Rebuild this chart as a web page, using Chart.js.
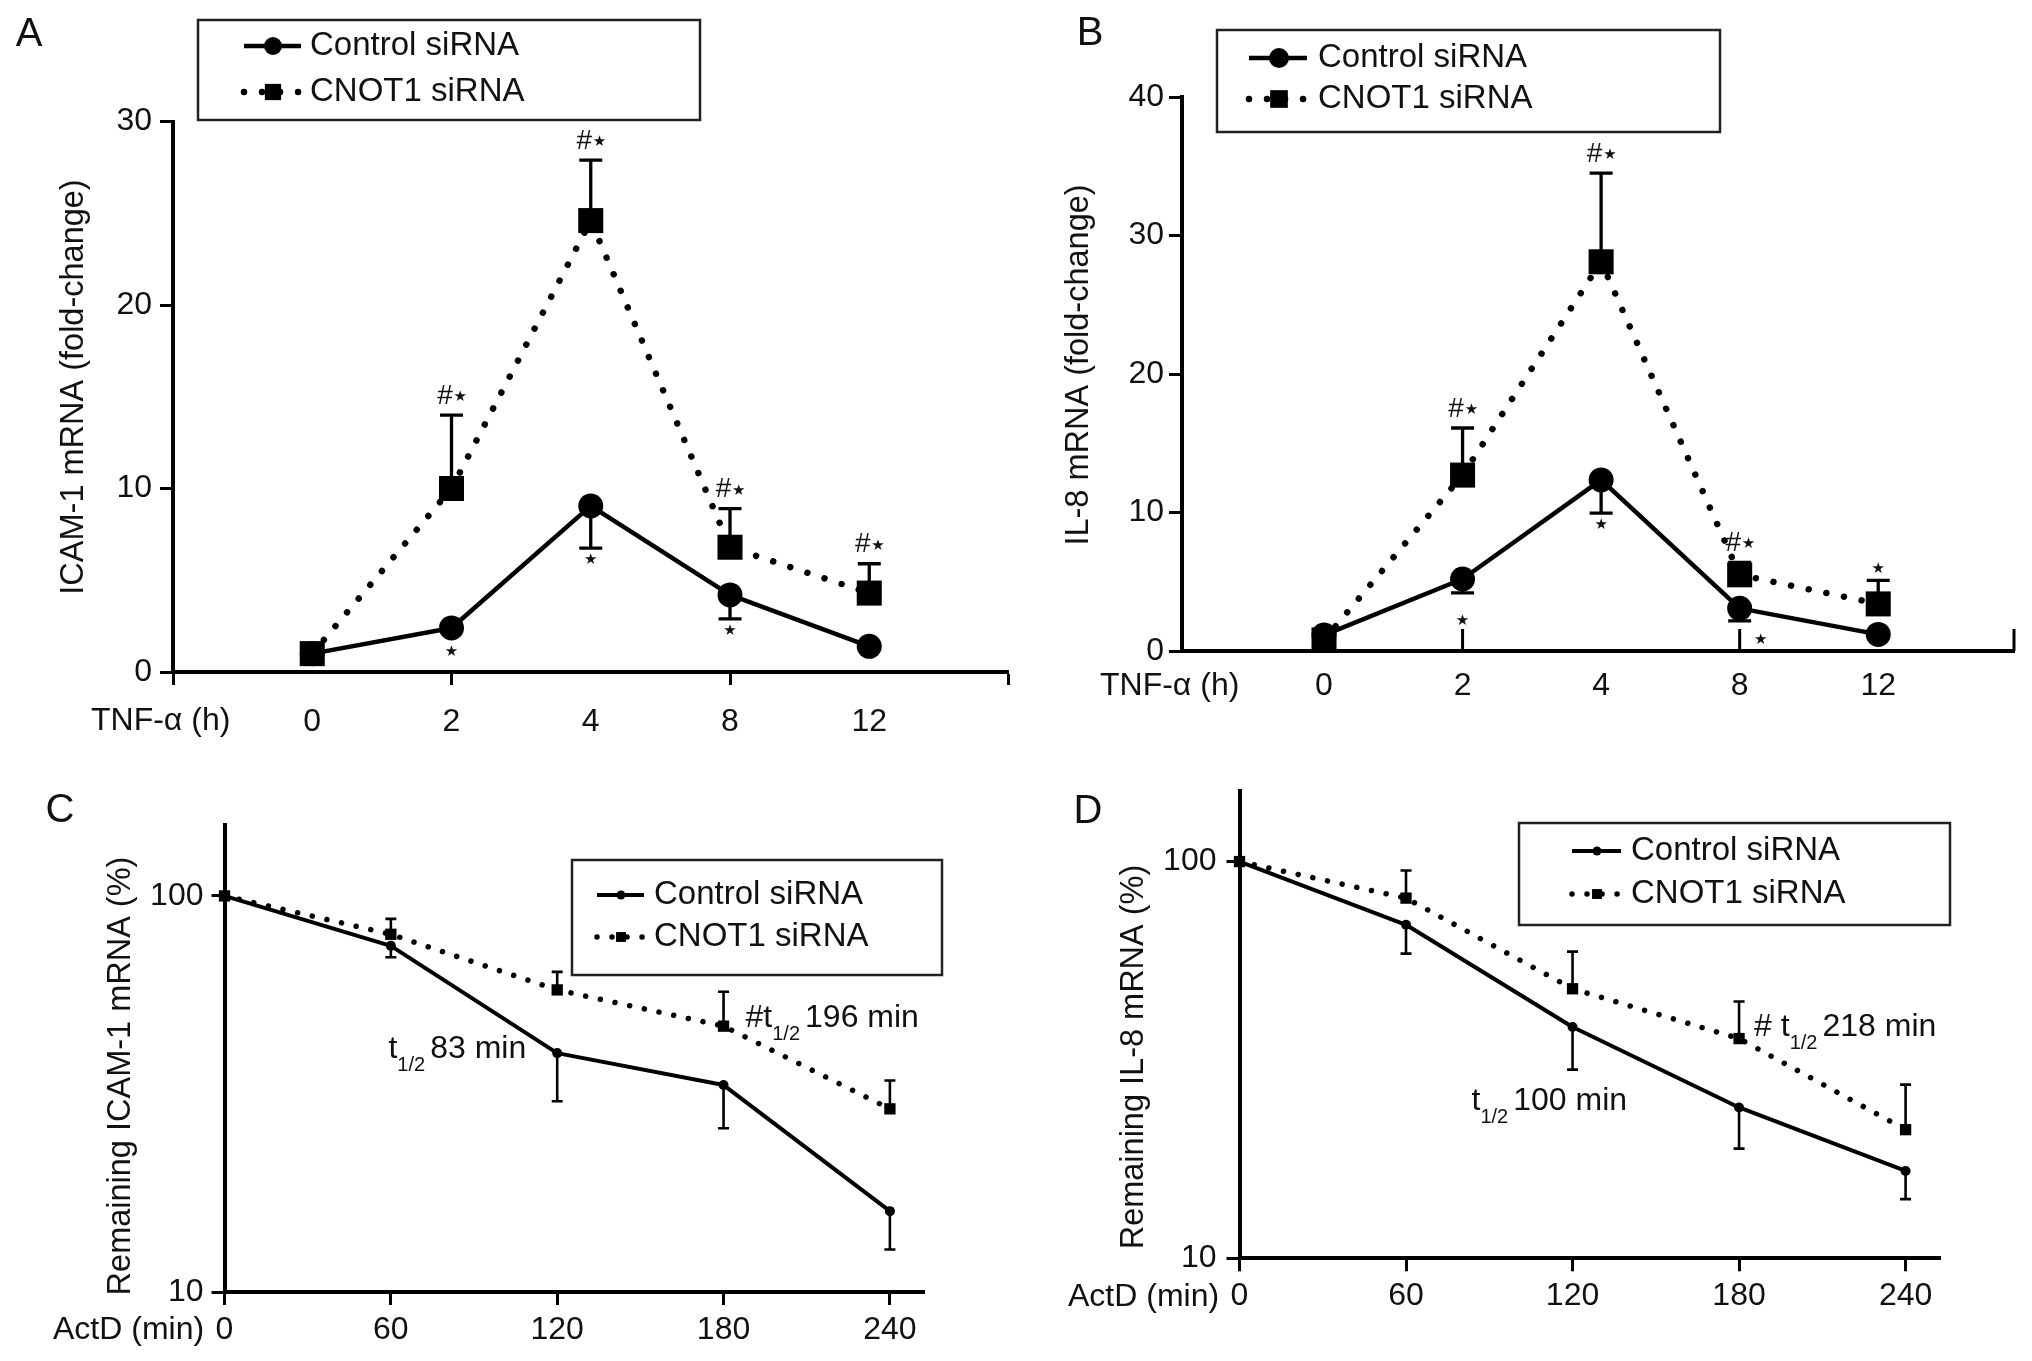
<!DOCTYPE html>
<html>
<head>
<meta charset="utf-8">
<script src="https://cdn.jsdelivr.net/npm/chart.js@4/dist/chart.umd.min.js"></script>
<style>
html,body{margin:0;padding:0;background:#fff;}
#wrap{position:relative;width:2032px;height:1361px;overflow:hidden;background:#fff;}
#wrap canvas{position:absolute;left:0;top:0;}
</style>
</head>
<body>
<div id="wrap">
<canvas id="cA" width="2032" height="1361"></canvas>
<canvas id="cB" width="2032" height="1361"></canvas>
<canvas id="cC" width="2032" height="1361"></canvas>
<canvas id="cD" width="2032" height="1361"></canvas>
</div>
<script>
// ---------------- DATA ----------------
const seriesNames = ['Control siRNA', 'CNOT1 siRNA'];
const timeLabels = ['0', '2', '4', '8', '12'];          // TNF-α (h)
const actdMinutes = [0, 60, 120, 180, 240];             // ActD (min)

// A: ICAM-1 mRNA (fold-change)
const icamControl    = [1.0, 2.4, 9.05, 4.2, 1.4];
const icamControlSem = [0, 0, 2.3, 1.3, 0];
const icamCnot1      = [1.0, 10.0, 24.6, 6.8, 4.3];
const icamCnot1Sem   = [0, 4.0, 3.3, 2.1, 1.6];
const icamControlSig = ['', '*', '*', '*', ''];
const icamCnot1Sig   = ['', '#*', '#*', '#*', '#*'];

// B: IL-8 mRNA (fold-change)
const il8Control    = [1.15, 5.2, 12.35, 3.08, 1.2];
const il8ControlSem = [0, 1.0, 2.4, 0.9, 0];
const il8Cnot1      = [0.8, 12.7, 28.1, 5.5, 3.4];
const il8Cnot1Sem   = [0, 3.4, 6.4, 0.9, 1.7];
const il8ControlSig = ['', '*', '*', '*', ''];
const il8Cnot1Sig   = ['', '#*', '#*', '#*', '*'];

// C: Remaining ICAM-1 mRNA (%)
const icamDecayControl    = [100, 74.8, 40.1, 33.3, 16.0];
const icamDecayControlSem = [0, 4.8, 9.8, 7.4, 3.2];
const icamDecayCnot1      = [100, 80.0, 57.9, 46.9, 29.0];
const icamDecayCnot1Sem   = [0, 7.5, 6.4, 10.4, 5.2];
const icamHalfLife        = ['83 min', '196 min'];

// D: Remaining IL-8 mRNA (%)
const il8DecayControl    = [100, 69.3, 38.3, 24.0, 16.6];
const il8DecayControlSem = [0, 10.7, 8.4, 5.1, 2.5];
const il8DecayCnot1      = [100, 80.9, 47.8, 35.8, 21.1];
const il8DecayCnot1Sem   = [0, 14.1, 11.5, 8.6, 6.3];
const il8HalfLife        = ['100 min', '218 min'];

const foldTicks = [0, 10, 20, 30];
const foldTicksB = [0, 10, 20, 30, 40];
const logTicks = [10, 100];

// ---------------- STYLE ----------------
const FONT = "'Liberation Sans', Arial, Helvetica, sans-serif";
const INK = '#111';
const W = 2032, H = 1361;

function markerPath(ctx, style, r, x, y) {
  ctx.beginPath();
  if (style === 'rect') {
    const s = r * Math.SQRT1_2;
    ctx.rect(x - s, y - s, 2 * s, 2 * s);
  } else {
    ctx.arc(x, y, r, 0, Math.PI * 2);
  }
  ctx.fill();
}

function drawStar(ctx, x, y, size) {
  ctx.save();
  ctx.font = size + "px 'DejaVu Sans', sans-serif";
  ctx.textAlign = 'center';
  ctx.textBaseline = 'middle';
  ctx.fillStyle = INK;
  ctx.fillText('\u2605', x, y);
  ctx.restore();
}

function drawSig(ctx, txt, cx, cy) {
  const hasHash = txt.indexOf('#') >= 0;
  ctx.save();
  ctx.font = '28px ' + FONT;
  ctx.fillStyle = INK;
  const hw = hasHash ? ctx.measureText('#').width : 0;
  const starW = 11, gap = hasHash ? 2 : 0;
  const total = hw + gap + starW;
  const x0 = cx - total / 2;
  if (hasHash) {
    ctx.textAlign = 'left';
    ctx.textBaseline = 'middle';
    ctx.fillText('#', x0, cy);
  }
  ctx.restore();
  drawStar(ctx, x0 + hw + gap + starW / 2, cy + (hasHash ? 1 : 0), 15);
}

function drawHalfLife(ctx, prefix, text, x, cy, align) {
  const big = '32px ' + FONT, small = '20px ' + FONT;
  const base = cy + 11.5;
  const parts = [];
  if (prefix) parts.push({ t: prefix, f: big, dy: 0, after: 0 });
  parts.push({ t: 't', f: big, dy: 0, after: 0 });
  parts.push({ t: '1/2', f: small, dy: 13, after: 5 });
  parts.push({ t: text, f: big, dy: 0, after: 0 });
  ctx.save();
  ctx.fillStyle = INK;
  ctx.textBaseline = 'alphabetic';
  ctx.textAlign = 'left';
  let total = 0;
  parts.forEach(p => { ctx.font = p.f; p.w = ctx.measureText(p.t).width; total += p.w + p.after; });
  let cx = align === 'right' ? x - total : x;
  parts.forEach(p => { ctx.font = p.f; ctx.fillText(p.t, cx, base + p.dy); cx += p.w + p.after; });
  ctx.restore();
}

function buildPanel(id, P) {
  const YW = 100, XH = 100;
  const g = P.geo;
  const datasets = P.series.map(s => ({
    label: s.name,
    data: s.values.map((v, i) => ({ x: P.xValues[i], y: v })),
    borderColor: '#000',
    backgroundColor: '#000',
    pointBackgroundColor: '#000',
    pointBorderWidth: 0,
    borderWidth: s.lineWidth,
    borderDash: s.dash,
    borderCapStyle: s.dash.length ? 'round' : 'butt',
    borderJoinStyle: 'round',
    pointStyle: s.pointStyle,
    pointRadius: s.pointRadius,
    pointHoverRadius: s.pointRadius,
    tension: 0,
    fill: false,
    clip: false,
    order: s.order
  }));

  const panelPlugin = {
    id: 'panelDeco' + id,
    beforeDatasetsDraw(chart) {
      const ctx = chart.ctx, xs = chart.scales.x, ys = chart.scales.y;
      ctx.save();
      ctx.strokeStyle = '#000';
      ctx.lineWidth = P.errWidth;
      P.series.forEach(s => {
        s.values.forEach((v, i) => {
          const e = s.errors[i];
          if (!e) return;
          const px = xs.getPixelForValue(P.xValues[i]);
          const y1 = ys.getPixelForValue(v);
          const y2 = ys.getPixelForValue(s.errDir === 'up' ? v + e : v - e);
          ctx.beginPath();
          ctx.moveTo(px, y1); ctx.lineTo(px, y2);
          ctx.moveTo(px - P.capHalf, y2); ctx.lineTo(px + P.capHalf, y2);
          ctx.stroke();
        });
      });
      ctx.restore();
    },
    afterDraw(chart) {
      const ctx = chart.ctx, xs = chart.scales.x, ys = chart.scales.y;
      const area = chart.chartArea;
      ctx.save();
      if (P.inwardTicks) {
        ctx.strokeStyle = '#000';
        ctx.lineWidth = 3;
        P.inwardTicks.forEach(v => {
          const px = xs.getPixelForValue(v);
          ctx.beginPath();
          ctx.moveTo(px, area.bottom);
          ctx.lineTo(px, area.bottom - 22);
          ctx.stroke();
        });
      }
      ctx.fillStyle = INK;
      ctx.font = '40px ' + FONT;
      ctx.textAlign = 'center';
      ctx.textBaseline = 'middle';
      ctx.fillText(P.letter.text, P.letter.x, P.letter.y);
      ctx.save();
      ctx.translate(P.yTitle.x, P.yTitle.y);
      ctx.rotate(-Math.PI / 2);
      ctx.font = '32.5px ' + FONT;
      ctx.textAlign = 'center';
      ctx.textBaseline = 'middle';
      ctx.fillText(P.yTitle.text, 0, 0);
      ctx.restore();
      ctx.font = '32px ' + FONT;
      ctx.textAlign = 'left';
      ctx.textBaseline = 'middle';
      ctx.fillText(P.xSide.text, P.xSide.x, P.xSide.y);
      const L = P.legend;
      ctx.strokeStyle = '#222';
      ctx.lineWidth = 2.5;
      ctx.strokeRect(L.box[0], L.box[1], L.box[2] - L.box[0], L.box[3] - L.box[1]);
      P.series.forEach((s, i) => {
        const y = L.rows[i];
        ctx.save();
        ctx.strokeStyle = '#000';
        ctx.lineWidth = s.lineWidth;
        ctx.setLineDash(s.dash);
        ctx.lineCap = s.dash.length ? 'round' : 'butt';
        ctx.beginPath();
        ctx.moveTo(L.sample[0], y); ctx.lineTo(L.sample[1], y);
        ctx.stroke();
        ctx.restore();
        ctx.fillStyle = '#000';
        markerPath(ctx, s.pointStyle, s.legendRadius, L.markerX, y);
        ctx.fillStyle = INK;
        ctx.font = '33px ' + FONT;
        ctx.textAlign = 'left';
        ctx.textBaseline = 'middle';
        ctx.fillText(s.name, L.textX, y);
      });
      P.series.forEach(s => {
        if (!s.sig) return;
        s.sig.forEach((txt, i) => {
          if (!txt) return;
          const px = xs.getPixelForValue(P.xValues[i]);
          const py = ys.getPixelForValue(s.values[i]);
          const e = s.errors[i];
          const nudge = (s.sigNudge && s.sigNudge[i]) || [0, 0];
          if (s.errDir === 'up') {
            const top = e ? ys.getPixelForValue(s.values[i] + e) : py - s.pointRadius;
            const cy = txt.indexOf('#') >= 0 ? top - 19 : top - 11;
            drawSig(ctx, txt, px + nudge[0], cy + nudge[1]);
          } else {
            const bot = Math.max(e ? ys.getPixelForValue(s.values[i] - e) : 0, py + s.pointRadius);
            drawSig(ctx, txt, px + nudge[0], bot + 12 + nudge[1]);
          }
        });
      });
      if (P.notes) {
        P.notes.forEach(n => {
          const s = P.series[n.series];
          const ax = xs.getPixelForValue(P.xValues[n.index]);
          const ay = ys.getPixelForValue(s.values[n.index]);
          drawHalfLife(ctx, n.prefix, n.text, ax + n.dx, ay + n.dy, n.align);
        });
      }
      ctx.restore();
    }
  };

  const xTickColor = (c) => {
    if (!P.xTickMarks) return 'rgba(0,0,0,0)';
    return (c.tick && P.xTickMarks.some(v => Math.abs(v - c.tick.value) < 1e-6)) ? '#000' : 'rgba(0,0,0,0)';
  };

  return new Chart(document.getElementById(id), {
    type: 'line',
    data: { datasets },
    plugins: [panelPlugin],
    options: {
      responsive: false,
      animation: false,
      devicePixelRatio: 1,
      events: [],
      layout: {
        padding: { left: g.left - YW, top: g.top, right: W - g.right, bottom: H - g.bottom - XH }
      },
      plugins: { legend: { display: false }, tooltip: { enabled: false }, title: { display: false } },
      scales: {
        x: {
          type: 'linear',
          min: P.x.min, max: P.x.max,
          afterFit: s => { s.height = XH; },
          afterBuildTicks: s => { s.ticks = P.x.ticks.map(v => ({ value: v })); },
          ticks: {
            autoSkip: false, maxRotation: 0, minRotation: 0,
            padding: P.x.padding,
            color: INK,
            font: { family: FONT, size: 32 },
            callback: P.x.label
          },
          grid: {
            drawOnChartArea: false,
            drawTicks: P.x.drawTicks,
            tickLength: 13,
            tickWidth: 3,
            tickColor: xTickColor,
            color: '#000'
          },
          border: { display: true, color: '#000', width: 4 }
        },
        y: {
          type: P.y.type,
          min: P.y.min, max: P.y.max,
          afterFit: s => { s.width = YW; },
          afterBuildTicks: s => { s.ticks = P.y.ticks.map(v => ({ value: v })); },
          ticks: {
            padding: P.y.padding,
            color: INK,
            font: { family: FONT, size: 32 },
            callback: v => String(v)
          },
          grid: {
            drawOnChartArea: false,
            drawTicks: true,
            tickLength: 13,
            tickWidth: 3,
            tickColor: '#000',
            color: '#000'
          },
          border: { display: true, color: '#000', width: 4 },
          title: { display: false }
        }
      }
    }
  });
}

const catIdx = timeLabels.map((_, i) => i);
const catLabel = v => (Number.isInteger(v) && v >= 0 && v < timeLabels.length) ? timeLabels[v] : '';

buildPanel('cA', {
  geo: { left: 173, right: 1008.5, top: 121.5, bottom: 672 },
  xValues: catIdx,
  x: { min: -1.0, max: 5.0, ticks: [-1.0, 0, 1, 2, 3, 4, 5.0], padding: 18, drawTicks: true, label: catLabel },
  xTickMarks: [-1.0, 1, 3, 5.0],
  y: { type: 'linear', min: 0, max: 30, ticks: foldTicks, padding: 8 },
  errWidth: 3.3, capHalf: 11.5,
  letter: { text: 'A', x: 29, y: 35 },
  yTitle: { text: 'ICAM-1 mRNA (fold-change)', x: 74, y: 387 },
  xSide: { text: 'TNF-\u03b1 (h)', x: 91, y: 721 },
  legend: { box: [198, 20, 700, 120], rows: [46, 92], sample: [244, 301], markerX: 273, textX: 310 },
  series: [
    { name: seriesNames[0], values: icamControl, errors: icamControlSem, errDir: 'down', sig: icamControlSig,
      lineWidth: 4.5, dash: [], pointStyle: 'circle', pointRadius: 12.5, legendRadius: 9, order: 2 },
    { name: seriesNames[1], values: icamCnot1, errors: icamCnot1Sem, errDir: 'up', sig: icamCnot1Sig,
      lineWidth: 6.5, dash: [0.01, 18], pointStyle: 'rect', pointRadius: 17.7, legendRadius: 11.5, order: 1 }
  ]
});

buildPanel('cB', {
  geo: { left: 1182, right: 2014, top: 97, bottom: 651 },
  xValues: catIdx,
  x: { min: -1.025, max: 4.98, ticks: [0, 1, 2, 3, 4], padding: 16, drawTicks: false, label: catLabel },
  xTickMarks: null,
  inwardTicks: [1, 3, 4.98],
  y: { type: 'linear', min: 0, max: 40, ticks: foldTicksB, padding: 5 },
  errWidth: 3.3, capHalf: 11.5,
  letter: { text: 'B', x: 1090, y: 34 },
  yTitle: { text: 'IL-8 mRNA (fold-change)', x: 1079, y: 365 },
  xSide: { text: 'TNF-\u03b1 (h)', x: 1100, y: 686 },
  legend: { box: [1217, 30, 1720, 132], rows: [58, 99], sample: [1249, 1307], markerX: 1279, textX: 1318 },
  series: [
    { name: seriesNames[0], values: il8Control, errors: il8ControlSem, errDir: 'down', sig: il8ControlSig,
      sigNudge: [null, [0, 16], null, [21, 7], null],
      lineWidth: 4.5, dash: [], pointStyle: 'circle', pointRadius: 12.5, legendRadius: 10, order: 2 },
    { name: seriesNames[1], values: il8Cnot1, errors: il8Cnot1Sem, errDir: 'up', sig: il8Cnot1Sig,
      lineWidth: 6.5, dash: [0.01, 18], pointStyle: 'rect', pointRadius: 17.7, legendRadius: 12.5, order: 1 }
  ]
});

buildPanel('cC', {
  geo: { left: 224.5, right: 924, top: 825, bottom: 1292 },
  xValues: actdMinutes,
  x: { min: 0, max: 252.3, ticks: actdMinutes, padding: 6, drawTicks: true, label: v => String(v) },
  xTickMarks: actdMinutes,
  y: { type: 'logarithmic', min: 10, max: 151, ticks: logTicks, padding: 8 },
  errWidth: 2.6, capHalf: 5.5,
  letter: { text: 'C', x: 60, y: 811 },
  yTitle: { text: 'Remaining ICAM-1 mRNA (%)', x: 121, y: 1076 },
  xSide: { text: 'ActD (min)', x: 53, y: 1330 },
  legend: { box: [572, 860, 942, 975], rows: [895, 937], sample: [597, 644], markerX: 621, textX: 654 },
  notes: [
    { series: 0, index: 2, dx: -31, dy: -7, align: 'right', prefix: '', text: icamHalfLife[0] },
    { series: 1, index: 3, dx: 22, dy: -11, align: 'left', prefix: '#', text: icamHalfLife[1] }
  ],
  series: [
    { name: seriesNames[0], values: icamDecayControl, errors: icamDecayControlSem, errDir: 'down',
      lineWidth: 4, dash: [], pointStyle: 'circle', pointRadius: 5, legendRadius: 4.5, order: 2 },
    { name: seriesNames[1], values: icamDecayCnot1, errors: icamDecayCnot1Sem, errDir: 'up',
      lineWidth: 5.5, dash: [0.01, 15], pointStyle: 'rect', pointRadius: 8, legendRadius: 7, order: 1 }
  ]
});

buildPanel('cD', {
  geo: { left: 1239.5, right: 1940, top: 790.7, bottom: 1258.3 },
  xValues: actdMinutes,
  x: { min: 0, max: 252.4, ticks: actdMinutes, padding: 6, drawTicks: true, label: v => String(v) },
  xTickMarks: actdMinutes,
  y: { type: 'logarithmic', min: 10, max: 150.9, ticks: logTicks, padding: 10 },
  errWidth: 2.6, capHalf: 5.5,
  letter: { text: 'D', x: 1088, y: 812 },
  yTitle: { text: 'Remaining IL-8 mRNA (%)', x: 1134, y: 1057 },
  xSide: { text: 'ActD (min)', x: 1068, y: 1297 },
  legend: { box: [1519, 823, 1950, 925], rows: [851, 894], sample: [1572, 1621], markerX: 1597, textX: 1631 },
  notes: [
    { series: 1, index: 3, dx: 15, dy: -14, align: 'left', prefix: '# ', text: il8HalfLife[1] },
    { series: 0, index: 2, dx: -101, dy: 72, align: 'left', prefix: '', text: il8HalfLife[0] }
  ],
  series: [
    { name: seriesNames[0], values: il8DecayControl, errors: il8DecayControlSem, errDir: 'down',
      lineWidth: 4, dash: [], pointStyle: 'circle', pointRadius: 5, legendRadius: 4.5, order: 2 },
    { name: seriesNames[1], values: il8DecayCnot1, errors: il8DecayCnot1Sem, errDir: 'up',
      lineWidth: 5.5, dash: [0.01, 15], pointStyle: 'rect', pointRadius: 8, legendRadius: 7, order: 1 }
  ]
});
</script>
</body>
</html>
